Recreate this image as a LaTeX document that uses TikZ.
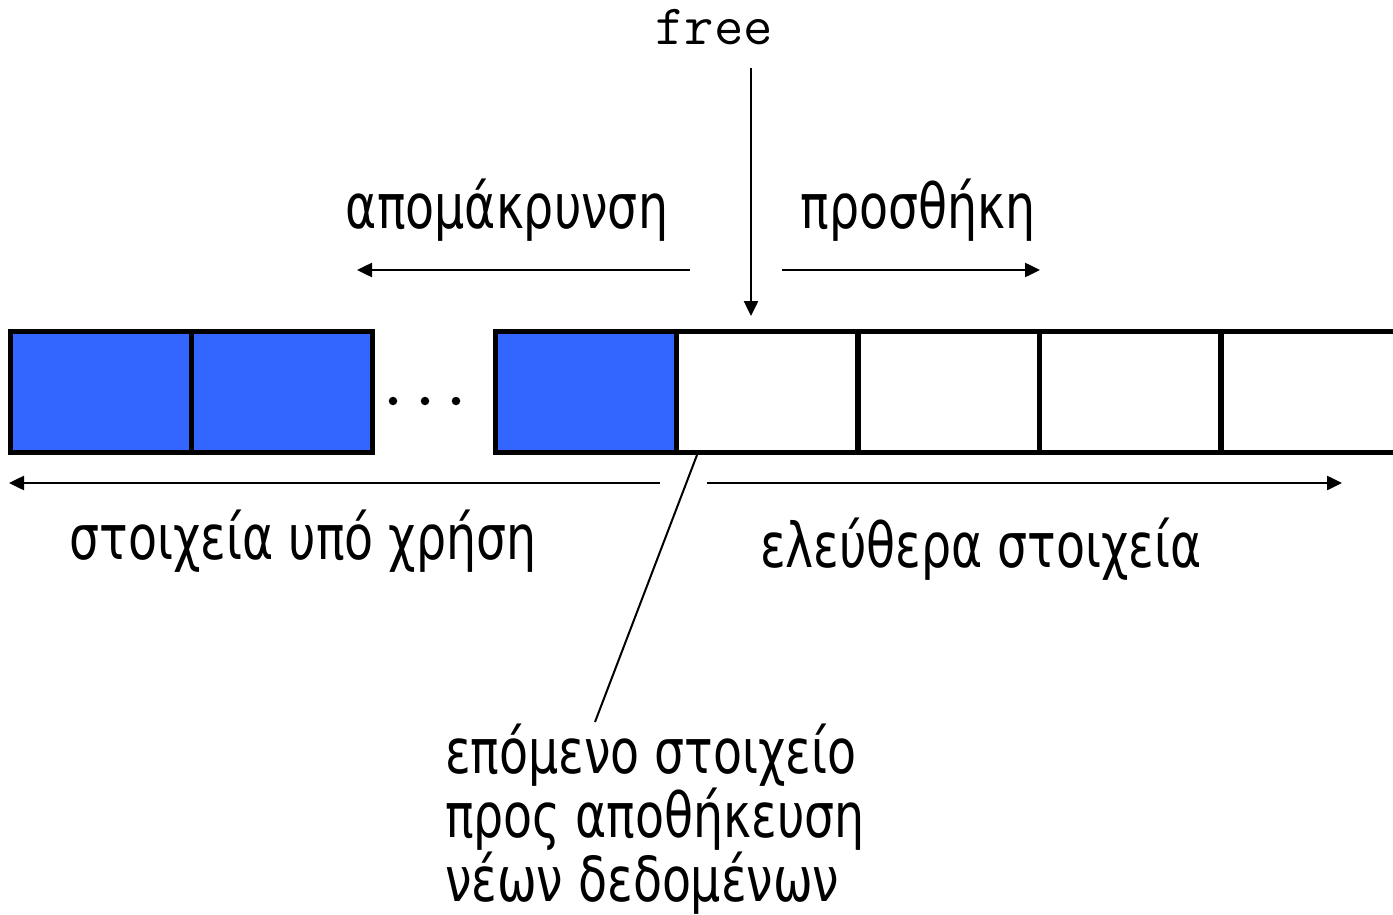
\documentclass[tikz,border=0pt]{standalone}
\usepackage{fontspec}
\setmainfont{DejaVu Sans Condensed}[FakeStretch=0.85]
\usetikzlibrary{arrows.meta}
\definecolor{usedcell}{HTML}{3366FF}
\begin{document}
\begin{tikzpicture}[x=1pt,y=-1pt,
  cell/.style={draw=black, line width=5pt, minimum width=181pt, minimum height=121pt, inner sep=0pt, outer sep=0pt},
  used/.style={cell, fill=usedcell},
  free/.style={cell, fill=white},
  arr/.style={line width=2.5pt, -{Triangle[length=15pt,width=14pt]}},
  lbl/.style={font=\fontsize{62}{59}\selectfont, inner sep=0pt, anchor=base},
  dot/.style={circle, fill=black, inner sep=0pt, minimum size=8.5pt}]
\useasboundingbox (0,0) rectangle (1393,915);
\clip (0,0) rectangle (1393,915);
% array cells
\node[used] (c1) at (100.5,391.5) {};
\node[used] (c2) at (281.5,391.5) {};
\node[used] (c3) at (585.5,391.5) {};
\node[free] (c4) at (767,391.5) {};
\node[free] (c5) at (948.5,391.5) {};
\node[free] (c6) at (1130,391.5) {};
\node[free] (c7) at (1311.5,391.5) {};
% ellipsis between the groups
\node[dot] (d1) at (393,401) {};
\node[dot] (d2) at (425,401) {};
\node[dot] (d3) at (456,401) {};
% free pointer
\node[font=\ttfamily\fontsize{57}{60}\selectfont, inner sep=0pt, anchor=base] (free) at (714,45) {free};
\coordinate (ftop) at (751,68);
\coordinate (fbot) at (751,316);
\draw[arr] (ftop) -- (fbot);
% removal / insertion
\node[lbl] (rem) at (507,229) {απομάκρυνση};
\node[lbl] (add) at (918,229) {προσθήκη};
\coordinate (remA) at (690,270);
\coordinate (remB) at (357,270);
\coordinate (addA) at (782,270);
\coordinate (addB) at (1040,270);
\draw[arr] (remA) -- (remB);
\draw[arr] (addA) -- (addB);
% used / free extents
\coordinate (usedA) at (660,483);
\coordinate (usedB) at (9,483);
\coordinate (freeA) at (707,483);
\coordinate (freeB) at (1342,483);
\draw[arr] (usedA) -- (usedB);
\draw[arr] (freeA) -- (freeB);
\node[lbl] (usedlbl) at (303,559) {στοιχεία υπό χρήση};
\node[lbl] (freelbl) at (981,567) {ελεύθερα στοιχεία};
% next free element
\coordinate (nxt) at (697,455);
\coordinate (nxtend) at (595,722);
\draw[line width=2pt] (nxt) -- (nxtend);
\node[lbl, anchor=base west, align=left] (nxtlbl) at (445,901) {επόμενο στοιχείο\\προς αποθήκευση\\νέων δεδομένων};
\end{tikzpicture}
\end{document}
